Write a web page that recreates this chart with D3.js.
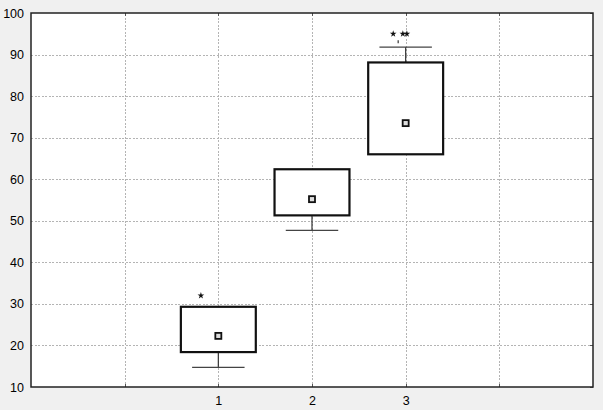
<!DOCTYPE html>
<html><head><meta charset="utf-8">
<script src="https://cdn.jsdelivr.net/npm/d3@7"></script>
<style>
html,body{margin:0;padding:0;background:#f0f0f0;}
svg{display:block;font-family:"Liberation Sans",Arial,sans-serif;}
</style></head><body>
<svg id="chart" width="603" height="410"></svg>
<script>
// Data
const categories = ["1", "2", "3"];
const categoryPositions = [2, 3, 4];
const boxLow = [18.4, 51.3, 66.0];
const boxHigh = [29.3, 62.4, 88.1];
const whiskerLow = [14.7, 47.7, 66.0];
const whiskerHigh = [29.3, 62.4, 91.8];
const means = [22.3, 55.2, 73.5];
const outlierCategory = [0, 2, 2, 2];
const outlierValue = [32.0, 95.0, 95.0, 95.0];
const outlierOffset = [-0.186, -0.133, -0.03, 0.013];
const smallMarkCategory = [2];
const smallMarkValue = [93.1];
const smallMarkOffset = [-0.08];
const yTicks = [10, 20, 30, 40, 50, 60, 70, 80, 90, 100];
const xGrid = [1, 2, 3, 4, 5];

const W = 603, H = 410;
const m = {left: 31, right: 10, top: 13, bottom: 23};
const svg = d3.select("#chart");
const x = d3.scaleLinear().domain([0, 6]).range([m.left, W - m.right]);
const y = d3.scaleLinear().domain([10, 100]).range([H - m.bottom, m.top]);

// plot background
svg.append("rect").attr("x", x(0)).attr("y", y(100))
  .attr("width", x(6) - x(0)).attr("height", y(10) - y(100)).attr("fill", "#fff");

// grid
const grid = svg.append("g").attr("stroke", "#b4b4b4").attr("stroke-width", 1)
  .attr("stroke-dasharray", "2,1.5").attr("shape-rendering", "crispEdges");
grid.selectAll(".hg").data(yTicks.slice(1, -1)).join("line")
  .attr("x1", x(0)).attr("x2", x(6))
  .attr("y1", d => Math.round(y(d)) + 0.5).attr("y2", d => Math.round(y(d)) + 0.5);
grid.selectAll(".vg").data(xGrid).join("line")
  .attr("y1", y(10)).attr("y2", y(100))
  .attr("x1", d => Math.round(x(d)) + 0.5).attr("x2", d => Math.round(x(d)) + 0.5);

// axes
const yAxis = d3.axisLeft(y).tickValues(yTicks).tickSize(0).tickPadding(7);
const gy = svg.append("g").attr("transform", `translate(${x(0)},0)`).call(yAxis);
gy.select(".domain").remove();
gy.selectAll("text").attr("font-size", 12.5).attr("fill", "#000")
  .attr("font-family", "Liberation Sans, Arial, sans-serif");

const xAxis = d3.axisBottom(x).tickValues(categoryPositions)
  .tickFormat((d, i) => categories[i]).tickSize(0).tickPadding(9);
const gx = svg.append("g").attr("transform", `translate(0,${y(10)})`).call(xAxis);
gx.select(".domain").remove();
gx.selectAll("text").attr("font-size", 12.5).attr("fill", "#000")
  .attr("font-family", "Liberation Sans, Arial, sans-serif");

// inner tick marks on frame
const tk = svg.append("g").attr("stroke", "#555").attr("stroke-width", 1).attr("shape-rendering", "crispEdges");
tk.selectAll(".bt").data(xGrid).join("line")
  .attr("x1", d => Math.round(x(d)) + 0.5).attr("x2", d => Math.round(x(d)) + 0.5)
  .attr("y1", y(10)).attr("y2", y(10) - 3);
tk.selectAll(".tt").data(xGrid).join("line")
  .attr("x1", d => Math.round(x(d)) + 0.5).attr("x2", d => Math.round(x(d)) + 0.5)
  .attr("y1", y(100)).attr("y2", y(100) + 3);
tk.selectAll(".rt").data(yTicks).join("line")
  .attr("x1", x(6)).attr("x2", x(6) - 3)
  .attr("y1", d => Math.round(y(d)) + 0.5).attr("y2", d => Math.round(y(d)) + 0.5);

// frame
svg.append("rect").attr("x", x(0)).attr("y", y(100))
  .attr("width", x(6) - x(0)).attr("height", y(10) - y(100))
  .attr("fill", "none").attr("stroke", "#222").attr("stroke-width", 1.5);

// boxes
const bw = 0.4, ww = 0.28;
const g = svg.append("g");
categories.forEach((c, i) => {
  const cx = x(categoryPositions[i]);
  const half = x(bw) - x(0), whalf = x(ww) - x(0);
  if (whiskerLow[i] < boxLow[i]) {
    g.append("line").attr("x1", cx).attr("x2", cx).attr("y1", y(boxLow[i])).attr("y2", y(whiskerLow[i]))
      .attr("stroke", "#333").attr("stroke-width", 1.2);
    g.append("line").attr("x1", cx - whalf).attr("x2", cx + whalf).attr("y1", y(whiskerLow[i])).attr("y2", y(whiskerLow[i]))
      .attr("stroke", "#444").attr("stroke-width", 1.2);
  }
  if (whiskerHigh[i] > boxHigh[i]) {
    g.append("line").attr("x1", cx).attr("x2", cx).attr("y1", y(boxHigh[i])).attr("y2", y(whiskerHigh[i]))
      .attr("stroke", "#333").attr("stroke-width", 1.2);
    g.append("line").attr("x1", cx - whalf).attr("x2", cx + whalf).attr("y1", y(whiskerHigh[i])).attr("y2", y(whiskerHigh[i]))
      .attr("stroke", "#444").attr("stroke-width", 1.2);
  }
  g.append("rect").attr("x", cx - half).attr("y", y(boxHigh[i]))
    .attr("width", 2 * half).attr("height", y(boxLow[i]) - y(boxHigh[i]))
    .attr("fill", "#fff").attr("stroke", "#111").attr("stroke-width", 2.2);
  g.append("rect").attr("x", cx - 3).attr("y", y(means[i]) - 3).attr("width", 6).attr("height", 6)
    .attr("fill", "#ddd").attr("stroke", "#111").attr("stroke-width", 1.8);
});

// extremes
svg.append("g").selectAll("path").data(outlierValue).join("path")
  .attr("d", d3.symbol(d3.symbolStar, 14))
  .attr("transform", (d, i) => `translate(${x(categoryPositions[outlierCategory[i]] + outlierOffset[i])},${y(d)})`)
  .attr("fill", "#111");
svg.append("g").selectAll("line").data(smallMarkValue).join("line")
  .attr("x1", (d, i) => x(categoryPositions[smallMarkCategory[i]] + smallMarkOffset[i]))
  .attr("x2", (d, i) => x(categoryPositions[smallMarkCategory[i]] + smallMarkOffset[i]))
  .attr("y1", d => y(d) - 1.5).attr("y2", d => y(d) + 1.5)
  .attr("stroke", "#333").attr("stroke-width", 1.2);
</script>
</body></html>
